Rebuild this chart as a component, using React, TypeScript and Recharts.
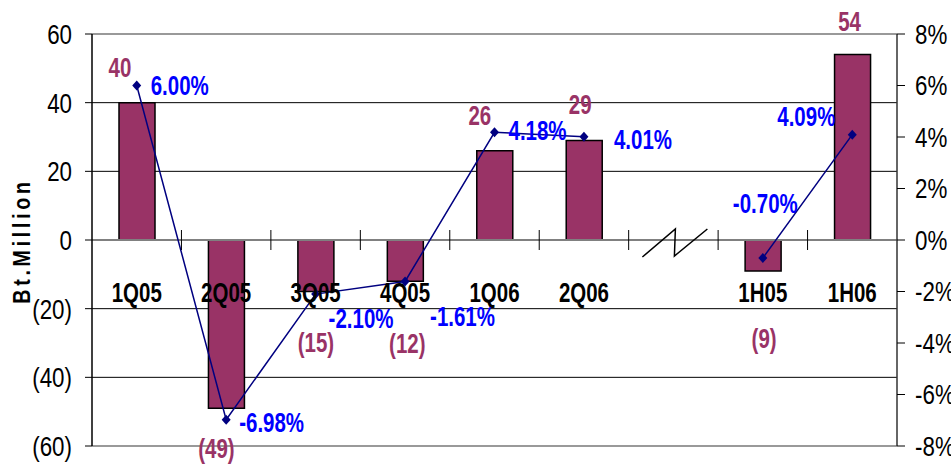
import React from 'react';
import {
  ComposedChart, Bar, Line, XAxis, YAxis, CartesianGrid, ReferenceLine, LabelList,
} from 'recharts';

// periods (the empty slot is the axis break between quarters and half-years)
const periods = ['1Q05', '2Q05', '3Q05', '4Q05', '1Q06', '2Q06', '', '1H05', '1H06'];
// net profit, Bt. million
const netProfit = [40, -49, -15, -12, 26, 29, null, -9, 54];
// net profit margin, %
const netMargin = [6.0, -6.98, -2.1, -1.61, 4.18, 4.01, null, -0.7, 4.09];

const leftTicks = [-60, -40, -20, 0, 20, 40, 60];
const rightTicks = [-8, -6, -4, -2, 0, 2, 4, 6, 8];

// hand-placed label nudges, like the dragged labels in the original
const barLabelNudge = [[-17, -35], [-10, 40], [0, 51], [2, 62], [-15, -35], [-4, -36], [0, 0], [1, 67], [-3, -33]];
const lineLabelNudge = [[14, 0], [13, 3], [13, 24], [25, 35], [14, -2], [30, 3], [0, 0], [-30, -55], [-75, -18]];

const W = 951;
const H = 465;
const PLOT_LEFT = 92;
const PLOT_RIGHT = 897;
const PLOT_TOP = 34;
const PLOT_BOTTOM = 446;
const ZERO_Y = (PLOT_TOP + PLOT_BOTTOM) / 2;
const BAND = (PLOT_RIGHT - PLOT_LEFT) / periods.length;

const FONT = "'Liberation Sans', Arial, sans-serif";
const BAR_COLOR = '#993366';
const LINE_COLOR = '#000080';
const PCT_COLOR = '#0000FF';

const rows = periods.map((p, i) => ({ period: p, profit: netProfit[i], margin: netMargin[i] }));

const fmtMoney = (v: number) => (v < 0 ? `(${-v})` : `${v}`);
const slotOf = (cx: number) => Math.max(0, Math.min(periods.length - 1, Math.floor((cx - PLOT_LEFT) / BAND)));

// Arial-Narrow look: squeeze horizontally, stretch a bit vertically
function Tall({ x, y, anchor = 'middle', size = 25, bold = true, fill = '#000', sx = 0.82, sy = 1.12, children }: any) {
  return (
    <text
      transform={`translate(${x},${y}) scale(${sx},${sy})`}
      textAnchor={anchor}
      dominantBaseline="central"
      fontFamily={FONT}
      fontSize={size}
      fontWeight={bold ? 700 : 400}
      fill={fill}
    >
      {children}
    </text>
  );
}

function CategoryTick(props: any) {
  const { x, payload, index } = props;
  return (
    <g>
      {index < periods.length - 1 && (
        <line x1={x + BAND / 2} x2={x + BAND / 2} y1={ZERO_Y - 10} y2={ZERO_Y + 10} stroke="#000" strokeWidth={1} />
      )}
      {payload.value === '' ? (
        <polyline
          points={`${x - 31},${ZERO_Y + 17} ${x + 2},${ZERO_Y - 11} ${x + 1},${ZERO_Y + 16} ${x + 34},${ZERO_Y - 11}`}
          fill="none" stroke="#000" strokeWidth={1.5}
        />
      ) : (
        <Tall x={x} y={ZERO_Y + 52}>{payload.value}</Tall>
      )}
    </g>
  );
}

function LeftTick(props: any) {
  const { x, y, payload } = props;
  return <Tall x={x} y={y} anchor="end" size={26} bold={false} sx={0.86} sy={1.08}>{fmtMoney(payload.value)}</Tall>;
}

function RightTick(props: any) {
  const { x, y, payload } = props;
  return <Tall x={x} y={y} anchor="start" size={26} bold={false} sx={0.86} sy={1.08}>{`${payload.value}%`}</Tall>;
}

function BarValueLabel(props: any) {
  const { x, y, width, height, value } = props;
  if (value == null) return null;
  const cx = x + width / 2;
  const top = Math.min(y, y + height);
  const bottom = Math.max(y, y + height);
  const end = value >= 0 ? top : bottom;
  const [dx, dy] = barLabelNudge[slotOf(cx)];
  return <Tall x={cx + dx} y={end + dy} fill={BAR_COLOR}>{fmtMoney(value)}</Tall>;
}

function PctLabel(props: any) {
  const { x, y, value } = props;
  if (value == null) return null;
  const [dx, dy] = lineLabelNudge[slotOf(x)];
  return <Tall x={x + dx} y={y + dy} anchor="start" fill={PCT_COLOR}>{`${value.toFixed(2)}%`}</Tall>;
}

function Diamond(props: any) {
  const { cx, cy, value, index } = props;
  if (value == null || cx == null) return <g key={index} />;
  return (
    <polygon
      key={index}
      points={`${cx},${cy - 5} ${cx + 4.5},${cy} ${cx},${cy + 5} ${cx - 4.5},${cy}`}
      fill={LINE_COLOR}
    />
  );
}

export default function App() {
  return (
    <div style={{ position: 'absolute', left: 0, top: 0, width: W, height: H, background: '#fff' }}>
      <ComposedChart
        width={W}
        height={H}
        data={rows}
        margin={{ top: PLOT_TOP, right: 0, bottom: H - PLOT_BOTTOM - 1, left: 0 }}
      >
        <CartesianGrid yAxisId="left" vertical={false} stroke="#000" strokeWidth={1} />
        <XAxis
          dataKey="period"
          height={1}
          axisLine={false}
          tickLine={false}
          tick={<CategoryTick />}
          interval={0}
        />
        <YAxis
          yAxisId="left"
          width={PLOT_LEFT}
          domain={[-60, 60]}
          ticks={leftTicks}
          interval={0}
          tickSize={7}
          tickMargin={13}
          tickLine={{ stroke: '#000' }}
          axisLine={{ stroke: '#000', strokeWidth: 1.5 }}
          tick={<LeftTick />}
        />
        <YAxis
          yAxisId="right"
          orientation="right"
          width={W - PLOT_RIGHT}
          domain={[-8, 8]}
          ticks={rightTicks}
          interval={0}
          tickSize={8}
          tickMargin={10}
          tickLine={{ stroke: '#000' }}
          axisLine={{ stroke: '#333', strokeWidth: 1.5 }}
          tick={<RightTick />}
        />
        <ReferenceLine yAxisId="left" y={60} stroke="#999" strokeWidth={2} />
        <ReferenceLine yAxisId="left" y={-60} stroke="#999" strokeWidth={2} />
        <ReferenceLine yAxisId="left" y={0} stroke="#808080" strokeWidth={2} />
        <Bar
          yAxisId="left"
          dataKey="profit"
          fill={BAR_COLOR}
          stroke="#000"
          strokeWidth={1.5}
          barSize={36}
          isAnimationActive={false}
        >
          <LabelList dataKey="profit" content={<BarValueLabel />} />
        </Bar>
        <Line
          yAxisId="right"
          dataKey="margin"
          stroke={LINE_COLOR}
          strokeWidth={1.5}
          dot={(p: any) => <Diamond {...p} />}
          activeDot={false}
          connectNulls={false}
          isAnimationActive={false}
        >
          <LabelList dataKey="margin" content={<PctLabel />} />
        </Line>
      </ComposedChart>
      <div
        style={{
          position: 'absolute',
          left: 22,
          top: 241,
          transform: 'translate(-50%, -50%) rotate(-90deg) scale(0.82, 1)',
          fontFamily: FONT,
          fontWeight: 700,
          fontSize: 24,
          letterSpacing: 4.5,
          whiteSpace: 'nowrap',
          color: '#000',
          lineHeight: 1,
        }}
      >
        Bt.Million
      </div>
    </div>
  );
}
